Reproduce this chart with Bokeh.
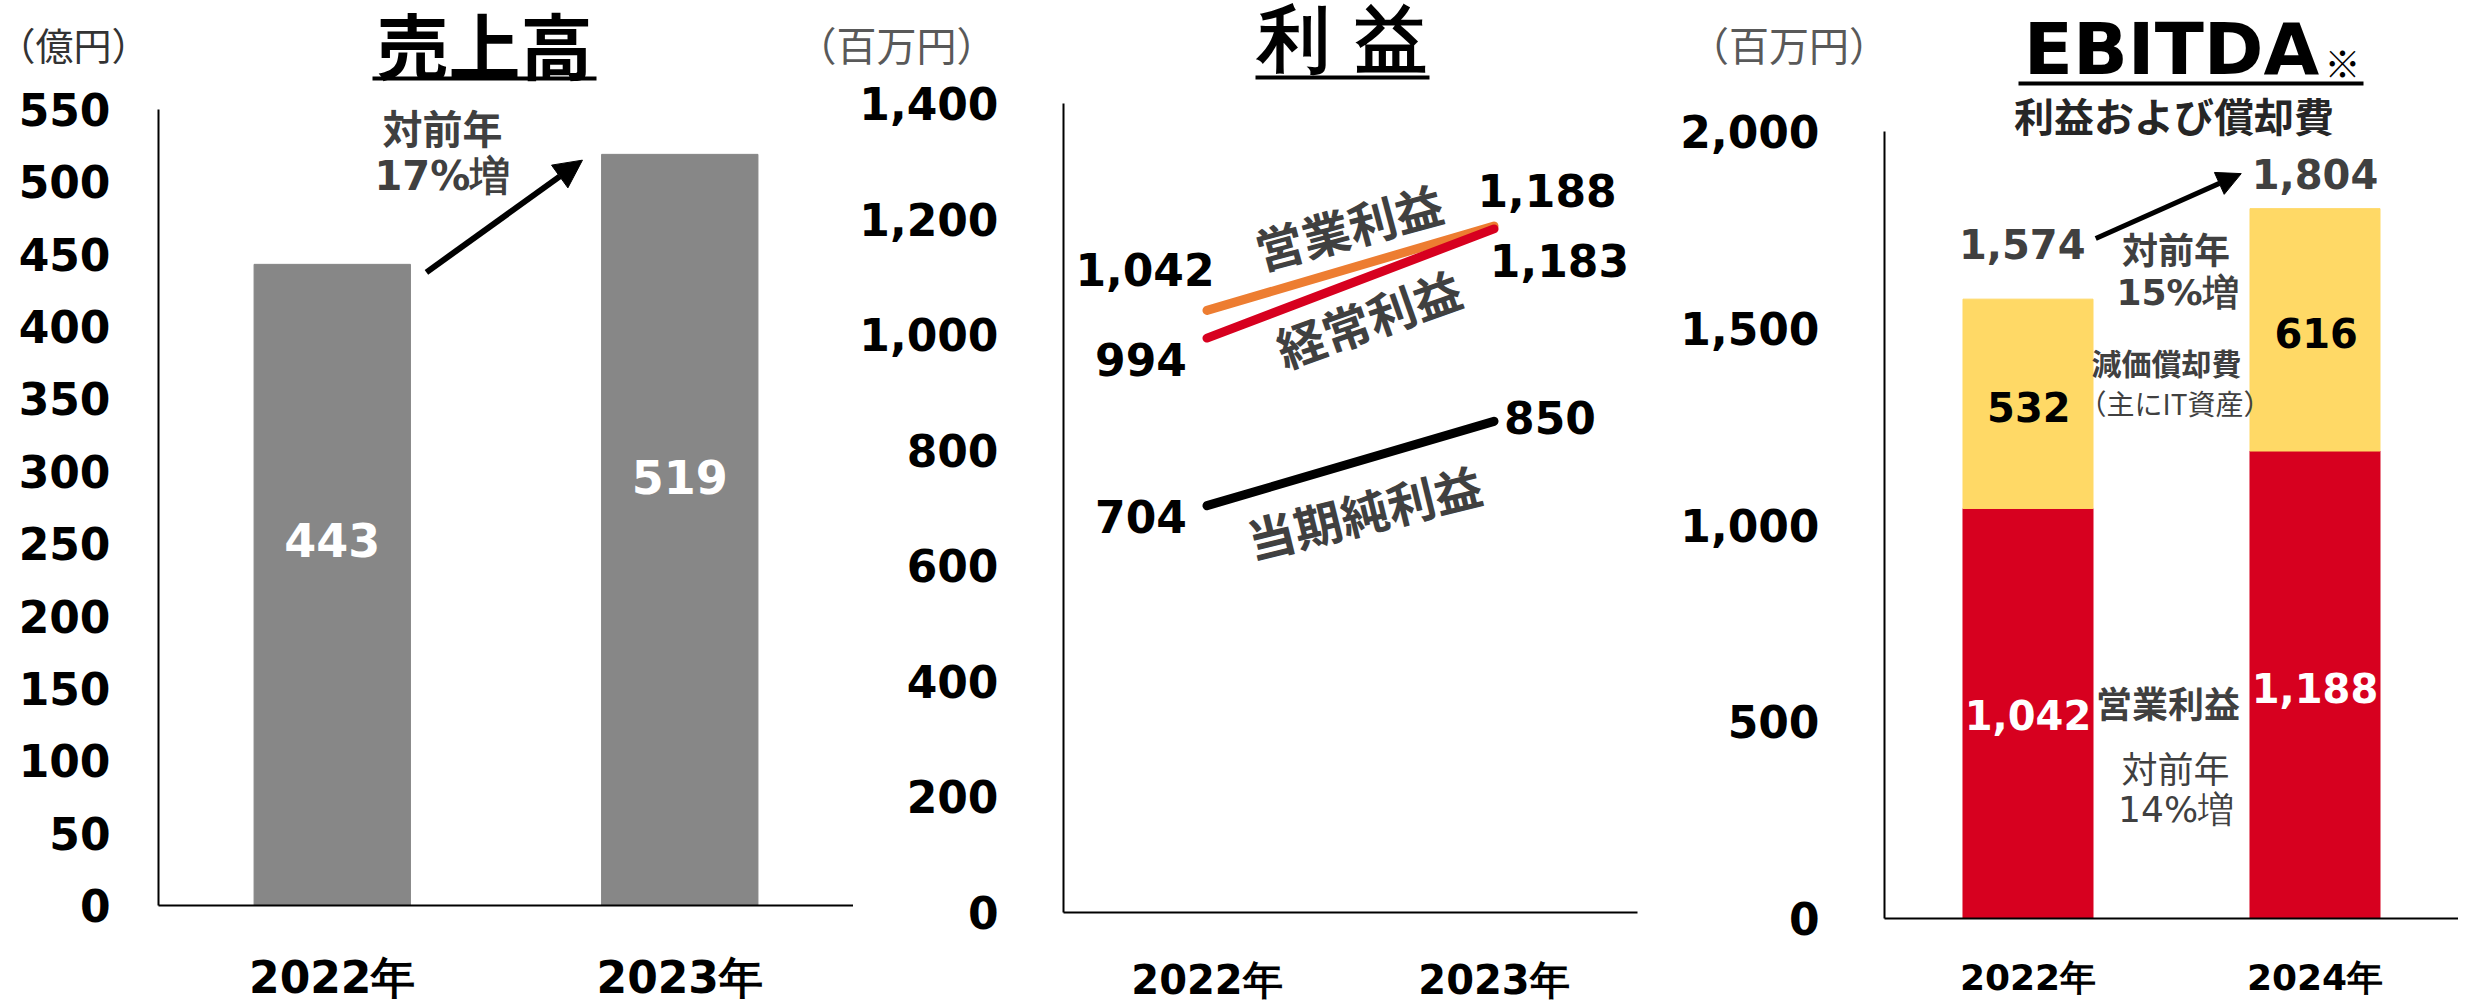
import math
from bokeh.plotting import figure
from bokeh.layouts import row, column
from bokeh.models import (Range1d, FactorRange, Label, Arrow, NormalHead,
                          FixedTicker, NumeralTickFormatter, ColumnDataSource)
from bokeh.core.properties import value
from bokeh.embed import file_html
from bokeh.resources import INLINE

# ---------------- data ----------------
sales_years = ["2022年", "2023年"]
sales = [443, 519]                      # 億円
sales_ticks = list(range(0, 551, 50))

profit_years = ["2022年", "2023年"]
operating_profit = [1042, 1188]         # 百万円
ordinary_profit = [994, 1183]
net_profit = [704, 850]
profit_ticks = list(range(0, 1401, 200))

ebitda_years = ["2022年", "2024年"]
ebitda_operating = [1042, 1188]         # 百万円
ebitda_depreciation = [532, 616]
ebitda_ticks = list(range(0, 2001, 500))

NUM = "DejaVu Sans"
JP = "Noto Sans CJK JP"
GRAY = "#404040"
UNIT = "#595959"
HEAD_H = 150          # header canvas height (its lower part lies under the chart)


def clean(p):
    p.xgrid.visible = False
    p.ygrid.visible = False
    p.outline_line_color = None
    p.background_fill_color = None
    p.border_fill_color = None
    p.frame_align = False


def make_fig(cats, ymax, ymax_axis, ticks, width, height, left, right, top, bottom,
             xstand, ystand, xfont, head_visible):
    p = figure(x_range=FactorRange(*cats), y_range=Range1d(0, ymax),
               width=width, height=height, output_backend="svg", toolbar_location=None,
               min_border_left=left, min_border_right=right,
               min_border_top=top, min_border_bottom=bottom)
    clean(p)
    p.margin = (-(HEAD_H - head_visible), 0, 0, 0)
    for ax in (p.xaxis[0], p.yaxis[0]):
        ax.axis_line_color = "black"
        ax.axis_line_width = 2
        ax.major_tick_line_color = None
        ax.minor_tick_line_color = None
        ax.major_tick_out = 0
        ax.major_tick_in = 0
        ax.major_label_text_font = NUM
        ax.major_label_text_font_style = "bold"
        ax.major_label_text_color = "black"
    p.yaxis.bounds = (0, ymax_axis)
    p.yaxis.ticker = FixedTicker(ticks=ticks)
    p.yaxis.formatter = NumeralTickFormatter(format="0,0")
    p.yaxis.major_label_text_font_size = "44px"
    p.yaxis.major_label_standoff = ystand
    p.xaxis.major_label_text_font_size = xfont
    p.xaxis.major_label_standoff = xstand
    return p


def make_header(width):
    h = figure(width=width, height=HEAD_H, x_range=Range1d(0, width), y_range=Range1d(0, HEAD_H),
               x_axis_type=None, y_axis_type=None,
               output_backend="svg", toolbar_location=None, min_border=0,
               min_border_left=0, min_border_right=0, min_border_top=0, min_border_bottom=0)
    clean(h)
    return h


def lab(p, x, y, text, size, color="black", font=NUM, style="bold", angle=0.0, align="center"):
    p.add_layout(Label(x=x, y=y, text=text, text_font=font, text_font_size=size,
                       text_font_style=style, text_color=color, text_align=align,
                       text_baseline="middle", angle=angle))


def hlab(h, x, page_y, text, size, **kw):
    lab(h, x, HEAD_H - page_y, text, size, **kw)


def arrow(p, x0, y0, x1, y1, width, size):
    p.add_layout(Arrow(end=NormalHead(size=size, fill_color="black", line_color="black"),
                       x_start=x0, y_start=y0, x_end=x1, y_end=y1,
                       line_color="black", line_width=width))


# ---------------- chart 1: 売上高 ----------------
h1 = make_header(853)
hlab(h1, 484, 42, "売上高", "72px", font=JP)
h1.segment(x0=[372], y0=[HEAD_H - 78], x1=[596], y1=[HEAD_H - 78], line_color="black", line_width=4)
hlab(h1, 73, 43, "（億円）", "38px", color="#333333", font=JP, style="normal")

p1 = make_fig(sales_years, 550, 550, sales_ticks, 853, 917, 158, 0, 21, 99, 46, 48, "44px", 88)
src1 = ColumnDataSource(dict(x=sales_years, top=sales,
                             ly=[v * 0.57 for v in sales],
                             txt=[f"{v:,}" for v in sales]))
p1.vbar(x="x", top="top", width=0.45, source=src1, color="#878787")
p1.text(x="x", y="ly", text="txt", source=src1, text_align="center", text_baseline="middle",
        text_font=value(NUM), text_font_size="46px", text_font_style="bold", text_color="white")
lab(p1, 0.817, 538, "対前年", "40px", color=GRAY, font=JP)
lab(p1, 0.817, 504, "17%増", "40px", color=GRAY)
arrow(p1, 0.771, 437.5, 1.220, 515, 6, 28)

# ---------------- chart 2: 利益 ----------------
h2 = make_header(850)
hlab(h2, 542, 38, "利 益", "72px", font=NUM)
h2.segment(x0=[455], y0=[HEAD_H - 77], x1=[629], y1=[HEAD_H - 77], line_color="black", line_width=4)
hlab(h2, 96, 43, "（百万円）", "40px", color=UNIT, font=JP, style="normal")

p2 = make_fig(profit_years, 1400, 1400, profit_ticks, 850, 919, 263, 13, 17, 92, 44, 65, "40px", 86)
p2.line(profit_years, operating_profit, line_color="#ED7D31", line_width=9, line_cap="round")
p2.line(profit_years, ordinary_profit, line_color="#D7001F", line_width=9, line_cap="round")
p2.line(profit_years, net_profit, line_color="black", line_width=9, line_cap="round")
lab(p2, 0.284, 1113, f"{operating_profit[0]:,}", "44px")
lab(p2, 0.270, 957, f"{ordinary_profit[0]:,}", "44px")
lab(p2, 0.270, 686, f"{net_profit[0]:,}", "44px")
lab(p2, 1.685, 1250, f"{operating_profit[1]:,}", "44px")
lab(p2, 1.728, 1129, f"{ordinary_profit[1]:,}", "44px")
lab(p2, 1.695, 857, f"{net_profit[1]:,}", "44px")
lab(p2, 0.993, 1189, "営業利益", "48px", color=GRAY, font=JP, angle=math.radians(15))
lab(p2, 1.062, 1030, "経常利益", "48px", color=GRAY, font=JP, angle=math.radians(19.5))
lab(p2, 1.047, 695, "当期純利益", "48px", color=GRAY, font=JP, angle=math.radians(13.8))
col2 = column(h2, p2)
col2.margin = (0, 0, 0, -53)

# ---------------- chart 3: EBITDA ----------------
h3 = make_header(808)
hlab(h3, 521, 48, "EBITDA", "72px")
hlab(h3, 692, 61, "※", "36px", font=JP)
h3.segment(x0=[368], y0=[HEAD_H - 83], x1=[713], y1=[HEAD_H - 83], line_color="black", line_width=4)
hlab(h3, 138.5, 43, "（百万円）", "40px", color=UNIT, font=JP, style="normal")

p3 = make_fig(ebitda_years, 2114.4, 2000, ebitda_ticks, 808, 919, 234, 0, 0, 87, 38, 65, "36px", 86)
tops = [a + b for a, b in zip(ebitda_operating, ebitda_depreciation)]
p3.vbar(x=ebitda_years, bottom=0, top=ebitda_operating, width=0.453, color="#D7001F")
p3.vbar(x=ebitda_years, bottom=ebitda_operating, top=tops, width=0.453, color="#FFD966")
lab(p3, 1.009, 2041, "利益および償却費", "40px", color="#262626", font=JP)
lab(p3, 0.48, 1713, f"{tops[0]:,}", "40px", color=GRAY)
lab(p3, 1.5, 1891, f"{tops[1]:,}", "40px", color=GRAY)
lab(p3, 0.503, 1299, f"{ebitda_depreciation[0]:,}", "40px")
lab(p3, 1.504, 1487, f"{ebitda_depreciation[1]:,}", "40px")
lab(p3, 0.5, 516, f"{ebitda_operating[0]:,}", "40px", color="white")
lab(p3, 1.5, 587, f"{ebitda_operating[1]:,}", "40px", color="white")
lab(p3, 1.016, 1705, "対前年", "36px", color=GRAY, font=JP)
lab(p3, 1.021, 1591, "15%増", "36px", color=GRAY)
arrow(p3, 0.736, 1728, 1.243, 1893, 5, 24)
lab(p3, 0.983, 1413, "減価償却費", "30px", color=GRAY, font=JP)
lab(p3, 1.012, 1309, "（主にIT資産）", "28px", color=GRAY, font=JP, style="normal")
lab(p3, 0.988, 549, "営業利益", "36px", color=GRAY, font=JP)
lab(p3, 1.014, 386, "対前年", "36px", color=GRAY, font=JP, style="normal")
lab(p3, 1.016, 277, "14%増", "36px", color=GRAY, style="normal")

layout = row(column(h1, p1), col2, column(h3, p3))
open("out.html", "w").write(file_html(layout, INLINE))
